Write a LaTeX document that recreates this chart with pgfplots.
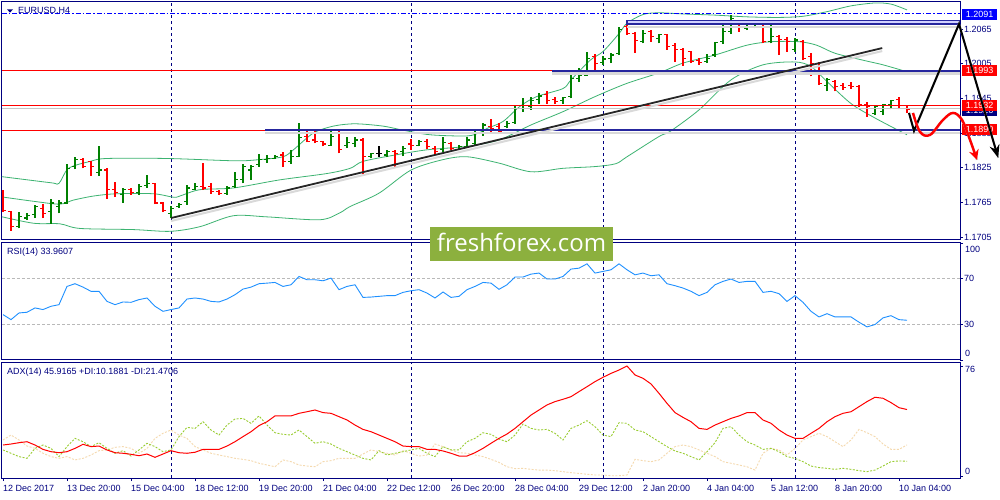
\documentclass[border=0pt]{standalone}
\usepackage{fontspec}
\setmainfont{Liberation Sans}
\newfontfamily\wmfont{Open Sans}
\usepackage{pgfplots}
\pgfplotsset{compat=1.18}
\usepackage{pgfplotstable}
\usetikzlibrary{arrows.meta}
\definecolor{navy}{HTML}{000080}
\definecolor{barg}{HTML}{008000}
\definecolor{bbg}{HTML}{3CB371}
\definecolor{rsib}{HTML}{1E90FF}
\definecolor{pdic}{HTML}{9ACD32}
\definecolor{mdic}{HTML}{F5D9AE}
\definecolor{wmg}{HTML}{8CB03E}
\definecolor{chan}{HTML}{26269E}
\definecolor{lblue}{HTML}{0000FF}

\pgfplotstableread{
i o h l c d rsi adx pdi mdi
0 1.1784 1.1786 1.1749 1.1751 0 38.8 21.4 18.0 24.9
1 1.1749 1.1751 1.1716 1.1723 0 34.5 22.1 15.7 28.3
2 1.1723 1.1749 1.1720 1.1741 1 40.2 23.0 13.4 24.9
3 1.1738 1.1746 1.1735 1.1742 1 40.8 23.7 12.2 20.7
4 1.1744 1.1761 1.1738 1.1758 1 44.5 21.4 19.1 19.1
5 1.1755 1.1762 1.1738 1.1746 0 43.1 18.4 21.4 15.7
6 1.1749 1.1771 1.1728 1.1764 1 45.9 16.8 19.1 13.4
7 1.1758 1.1769 1.1746 1.1764 1 47.3 16.1 13.4 12.2
8 1.1764 1.1832 1.1762 1.1824 1 62.9 16.8 20.3 13.4
9 1.1827 1.1843 1.1822 1.1840 1 65.2 19.1 26.0 11.1
10 1.1839 1.1841 1.1824 1.1827 0 62.3 21.9 23.7 12.2
11 1.1836 1.1837 1.1811 1.1827 0 58.7 20.3 20.3 14.5
12 1.1817 1.1863 1.1811 1.1821 1 58.7 20.7 23.0 17.5
13 1.1821 1.1824 1.1771 1.1787 0 50.1 18.0 19.1 18.0
14 1.1787 1.1801 1.1774 1.1782 0 47.3 16.1 15.7 19.8
15 1.1778 1.1790 1.1764 1.1787 1 49.6 15.7 17.5 20.3
16 1.1787 1.1790 1.1778 1.1782 0 49.3 15.0 13.8 19.1
17 1.1782 1.1797 1.1778 1.1792 1 51.6 14.0 18.0 15.7
18 1.1795 1.1813 1.1790 1.1798 1 53.0 15.2 22.6 19.1
19 1.1798 1.1799 1.1762 1.1764 0 45.9 12.9 20.3 26.0
20 1.1764 1.1766 1.1748 1.1751 0 41.6 15.2 16.8 29.5
21 1.1746 1.1758 1.1738 1.1755 1 43.1 17.5 18.0 31.8
22 1.1758 1.1764 1.1755 1.1761 1 44.5 16.1 27.2 28.3
23 1.1767 1.1795 1.1761 1.1790 1 52.1 15.7 33.6 26.0
24 1.1787 1.1798 1.1786 1.1792 1 53.0 16.4 32.9 20.3
25 1.1792 1.1833 1.1787 1.1790 0 52.1 18.4 37.5 18.0
26 1.1792 1.1798 1.1780 1.1784 0 50.1 18.4 31.8 15.7
27 1.1784 1.1786 1.1778 1.1781 0 49.6 18.4 28.3 14.5
28 1.1781 1.1794 1.1778 1.1790 1 52.1 20.7 35.2 13.4
29 1.1792 1.1818 1.1790 1.1804 1 55.8 23.7 39.4 12.2
30 1.1804 1.1832 1.1798 1.1827 1 60.6 27.2 39.8 11.5
31 1.1821 1.1830 1.1804 1.1827 1 62.3 30.6 36.4 10.6
32 1.1830 1.1849 1.1827 1.1839 1 65.2 34.8 41.5 8.8
33 1.1839 1.1847 1.1834 1.1841 1 65.7 37.5 35.2 7.6
34 1.1841 1.1847 1.1840 1.1845 1 66.3 41.5 29.9 6.4
35 1.1847 1.1853 1.1827 1.1836 0 62.9 41.5 28.8 11.1
36 1.1836 1.1856 1.1832 1.1844 1 64.3 41.5 28.3 9.9
37 1.1844 1.1902 1.1843 1.1878 1 71.4 43.3 31.8 7.6
38 1.1879 1.1888 1.1869 1.1870 0 68.6 44.4 27.2 6.9
39 1.1873 1.1888 1.1867 1.1870 0 68.6 45.6 22.6 6.4
40 1.1870 1.1872 1.1862 1.1866 0 67.7 43.8 23.7 9.9
41 1.1864 1.1888 1.1863 1.1879 1 70.0 43.3 22.1 10.6
42 1.1885 1.1889 1.1850 1.1857 0 60.1 41.0 19.1 12.2
43 1.1864 1.1879 1.1859 1.1869 1 62.9 38.7 16.8 12.2
44 1.1867 1.1879 1.1860 1.1873 1 64.3 35.2 14.5 12.2
45 1.1873 1.1876 1.1815 1.1844 0 53.5 32.2 12.2 15.2
46 1.1844 1.1851 1.1841 1.1849 1 53.8 30.6 11.1 18.0
47 1.1850 1.1862 1.1843 1.1850 2 54.4 28.3 17.5 16.8
48 1.1847 1.1856 1.1843 1.1853 1 55.0 26.0 14.5 15.7
49 1.1853 1.1856 1.1827 1.1850 0 55.0 23.7 15.7 14.5
50 1.1853 1.1862 1.1845 1.1859 1 57.8 20.7 16.8 17.5
51 1.1866 1.1874 1.1856 1.1863 0 59.2 20.3 18.0 15.7
52 1.1864 1.1873 1.1862 1.1870 1 60.1 20.3 19.1 13.8
53 1.1870 1.1874 1.1857 1.1862 0 57.2 18.4 15.7 14.5
54 1.1859 1.1862 1.1847 1.1853 0 53.0 18.4 13.4 22.1
55 1.1856 1.1879 1.1853 1.1869 1 58.1 17.3 20.3 20.3
56 1.1867 1.1870 1.1856 1.1859 0 53.5 15.7 18.0 18.0
57 1.1857 1.1864 1.1855 1.1862 1 54.4 13.8 18.0 16.1
58 1.1862 1.1879 1.1859 1.1873 1 60.1 13.8 23.7 15.7
59 1.1867 1.1888 1.1863 1.1885 1 62.9 16.1 26.0 14.5
60 1.1886 1.1903 1.1880 1.1899 1 66.3 19.1 29.9 13.4
61 1.1897 1.1909 1.1886 1.1893 0 65.7 22.6 28.8 11.5
62 1.1896 1.1902 1.1883 1.1888 0 60.4 26.0 25.5 9.4
63 1.1896 1.1905 1.1893 1.1902 1 64.3 29.0 23.7 6.4
64 1.1903 1.1931 1.1901 1.1928 1 70.9 32.9 28.3 5.1
65 1.1928 1.1945 1.1922 1.1932 1 70.9 37.5 35.9 5.3
66 1.1931 1.1947 1.1925 1.1942 1 73.4 42.1 32.9 4.6
67 1.1943 1.1954 1.1936 1.1949 1 74.3 45.6 31.8 4.1
68 1.1951 1.1958 1.1936 1.1942 0 69.2 49.1 32.2 4.1
69 1.1943 1.1947 1.1935 1.1939 0 69.2 51.4 29.5 3.7
70 1.1941 1.1948 1.1936 1.1947 1 71.4 53.0 24.9 3.0
71 1.1948 1.1985 1.1945 1.1980 1 77.7 54.8 32.9 2.3
72 1.1980 1.1997 1.1974 1.1985 1 78.5 58.3 35.2 1.8
73 1.1985 1.2026 1.1984 1.2014 1 82.2 61.7 38.2 1.2
74 1.2017 1.2022 1.1993 1.2006 0 74.3 65.2 34.1 0.7
75 1.2007 1.2018 1.2003 1.2013 1 75.7 68.2 28.3 0.7
76 1.2014 1.2024 1.2006 1.2020 1 77.1 70.9 27.2 0.2
77 1.2023 1.2068 1.2020 1.2064 1 82.2 73.2 36.8 0.2
78 1.2069 1.2076 1.2055 1.2057 0 77.1 76.0 36.4 0.7
79 1.2057 1.2060 1.2024 1.2045 0 72.8 69.8 31.8 11.5
80 1.2043 1.2063 1.2040 1.2057 1 74.3 67.5 30.6 10.6
81 1.2060 1.2064 1.2043 1.2052 0 72.0 63.6 27.2 9.9
82 1.2049 1.2057 1.2040 1.2056 1 72.8 57.1 23.7 11.1
83 1.2055 1.2057 1.2029 1.2034 0 65.2 50.2 20.3 15.7
84 1.2037 1.2040 1.2008 1.2029 0 63.5 43.8 17.3 20.3
85 1.2029 1.2032 1.2001 1.2014 0 61.5 40.5 15.7 21.4
86 1.2026 1.2027 1.2006 1.2008 0 58.7 37.5 13.4 20.3
87 1.2011 1.2014 1.2003 1.2007 0 55.0 32.9 11.1 18.0
88 1.2008 1.2022 1.2006 1.2014 1 57.8 32.2 16.8 15.7
89 1.2020 1.2043 1.2017 1.2041 1 64.3 35.2 23.0 13.4
90 1.2043 1.2074 1.2039 1.2060 1 67.2 37.5 32.9 9.9
91 1.2060 1.2089 1.2057 1.2083 1 69.2 39.8 34.1 8.8
92 1.2076 1.2078 1.2060 1.2069 0 66.3 41.5 28.3 7.6
93 1.2066 1.2075 1.2063 1.2070 1 67.2 43.8 23.7 6.4
94 1.2068 1.2072 1.2066 1.2070 1 67.2 43.8 21.4 4.1
95 1.2072 1.2074 1.2040 1.2043 0 57.8 38.7 18.4 15.7
96 1.2043 1.2080 1.2040 1.2052 1 58.7 36.4 19.1 19.1
97 1.2052 1.2055 1.2020 1.2047 0 56.7 31.8 16.8 18.0
98 1.2047 1.2051 1.2026 1.2043 0 50.1 28.3 13.4 14.5
99 1.2029 1.2049 1.2026 1.2046 1 55.0 26.0 12.2 19.1
100 1.2043 1.2046 1.2011 1.2014 0 49.3 26.0 9.9 24.9
101 1.2017 1.2023 1.1983 1.2006 0 41.6 29.5 6.9 27.2
102 1.2006 1.2008 1.1968 1.1971 0 36.8 32.9 5.8 29.5
103 1.1968 1.1980 1.1957 1.1977 1 39.6 37.5 5.3 27.2
104 1.1974 1.1977 1.1957 1.1965 0 36.8 41.0 4.6 23.7
105 1.1968 1.1972 1.1960 1.1964 0 36.8 43.3 5.3 20.3
106 1.1968 1.1974 1.1962 1.1965 0 36.8 44.4 4.6 24.9
107 1.1965 1.1968 1.1930 1.1934 0 32.3 47.9 3.7 32.2
108 1.1934 1.1938 1.1913 1.1931 0 28.3 51.4 3.0 29.9
109 1.1919 1.1934 1.1916 1.1931 1 30.3 54.4 4.1 27.2
110 1.1922 1.1936 1.1916 1.1934 1 36.0 53.7 6.9 22.1
111 1.1934 1.1943 1.1926 1.1942 1 37.9 50.7 9.9 18.4
112 1.1943 1.1947 1.1926 1.1928 0 34.5 47.2 10.4 18.4
113 1.1928 1.1931 1.1920 1.1926 0 33.96 45.92 10.19 21.47
}\bars

\pgfplotstableread{
i p
-0.4 1.1810
6 1.1799
7 1.1798
8.2 1.1824
10.9 1.1836
13 1.1841
20.5 1.1841
29 1.1837
32 1.1839
35 1.1844
36.3 1.1856
38.8 1.1885
41.3 1.1897
44 1.1901
47.5 1.1897
50 1.1890
53.4 1.1882
58 1.1880
59.6 1.1886
60.5 1.1893
62.5 1.1905
64.6 1.1931
66.7 1.1948
70 1.1962
71 1.1977
73.4 1.2011
75 1.2026
77 1.2057
78 1.2075
80 1.2090
82 1.2093
85 1.2091
89 1.2089
93 1.2086
97 1.2085
100 1.2087
103 1.2095
106 1.2105
109 1.2110
111 1.2108
113 1.2098
}\bbup

\pgfplotstableread{
i p
-0.4 1.1775
3.8 1.1767
7.1 1.1762
8.8 1.1769
11.3 1.1776
14.2 1.1780
18.8 1.1780
21.3 1.1774
22.1 1.1776
24.6 1.1787
28.8 1.1790
34.6 1.1804
40.5 1.1815
43.4 1.1824
45 1.1836
49 1.1847
53 1.1856
58 1.1862
62 1.1873
66 1.1899
70 1.1922
74 1.1948
78 1.1971
82 1.1989
85 1.2006
89 1.2020
93 1.2037
96 1.2043
99.5 1.2043
101.7 1.2037
104 1.2023
107.5 1.2011
110 1.2003
113 1.1991
}\bbmid

\pgfplotstableread{
i p
-0.4 1.1741
3.8 1.1729
7.1 1.1728
9.6 1.1720
16.3 1.1718
20.9 1.1715
24.6 1.1723
28.8 1.1742
33 1.1740
39.6 1.1735
42.1 1.1747
43.4 1.1758
47 1.1781
51 1.1821
55 1.1839
58 1.1844
62 1.1833
66 1.1818
70 1.1824
74 1.1827
76.6 1.1832
78 1.1844
82 1.1879
83.4 1.1888
87 1.1925
91 1.1977
95 1.2003
99 1.2008
101 1.2000
103 1.1974
106 1.1936
109 1.1911
113 1.1882
}\bblo

\newcommand\ohlc[2]{%
 \addplot[#2, line width=1.1pt, quiver={u=0,v=\thisrow{h}-\thisrow{l}}, restrict expr to domain={\thisrow{d}}{#1:#1}] table[x=i,y=l]{\bars};
 \addplot[#2, line width=1.1pt, quiver={u=-0.375,v=0}, restrict expr to domain={\thisrow{d}}{#1:#1}] table[x=i,y=o]{\bars};
 \addplot[#2, line width=1.1pt, quiver={u=0.375,v=0}, restrict expr to domain={\thisrow{d}}{#1:#1}] table[x=i,y=c]{\bars};
}

\begin{document}
\begin{tikzpicture}[font=\fontsize{9}{11}\selectfont]
\useasboundingbox (0pt,0pt) rectangle (1000pt,500pt);
\fill[white] (0pt,0pt) rectangle (1000pt,500pt);
\pgfplotsset{mt/.style={
  scale only axis, width=958pt, xmin=-0.125, xmax=119.625, anchor=south west,
  axis line style={navy, line width=1pt},
  xtick=\empty, extra x ticks={21,51,75,99}, extra x tick labels={},
  extra x tick style={grid=major, major tick length=0pt},
  major grid style={navy, dash pattern=on 3pt off 3pt, line width=1pt},
  ytick pos=right, yticklabel pos=right, tick align=outside,
  major tick length=3pt, tick style={navy, line width=0.8pt},
  tick label style={font=\fontsize{9}{10}\selectfont, text=navy},
  yticklabel style={anchor=west, inner sep=0pt, xshift=1pt},
  scaled y ticks=false,
}}
% ---------- main price panel
\begin{axis}[mt, at={(2pt,260pt)}, height=238pt, ymin=1.1700, ymax=1.21117,
  ytick={1.1705,1.1765,1.1825,1.1885,1.1945,1.2005,1.2065},
  yticklabels={1.1705,1.1765,1.1825,1.1885,1.1945,1.2005,1.2065}]
\addplot[bbg, line width=0.8pt, smooth, tension=0.5] table[x=i,y=p]{\bbup};
\addplot[bbg, line width=0.8pt, smooth, tension=0.5] table[x=i,y=p]{\bbmid};
\addplot[bbg, line width=0.8pt, smooth, tension=0.5] table[x=i,y=p]{\bblo};
\ohlc{1}{barg}
\ohlc{0}{red}
\ohlc{2}{black}
% horizontal levels
\draw[red, line width=1pt] (axis cs:-0.125,1.1993) -- (axis cs:119.625,1.1993);
\draw[red, line width=1pt] (axis cs:-0.125,1.1932) -- (axis cs:119.625,1.1932);
\draw[gray!45, line width=1pt] (axis cs:-0.125,1.19268) -- (axis cs:119.625,1.19268);
\draw[red, line width=1pt] (axis cs:-0.125,1.1890) -- (axis cs:119.625,1.1890);
\draw[lblue, line width=1pt, dash pattern=on 5pt off 2pt on 1.5pt off 2pt] (axis cs:-0.125,1.2091) -- (axis cs:119.625,1.2091);
% channel lines with shadows
\draw[gray!30, line width=2.5pt, yshift=-3pt] (axis cs:78,1.20736) -- (axis cs:119.6,1.20736);
\draw[gray!30, line width=2.5pt, yshift=-3pt] (axis cs:68.6,1.1993) -- (axis cs:119.6,1.1993);
\draw[gray!30, line width=2.5pt, yshift=-3pt] (axis cs:32.75,1.1890) -- (axis cs:119.6,1.1890);
\draw[chan, line width=1.1pt, fill=blue!18] (axis cs:78,1.20736) rectangle (axis cs:119.6,1.20793);
\draw[chan, line width=2pt] (axis cs:68.6,1.1993) -- (axis cs:119.6,1.1993);
\draw[chan, line width=2pt] (axis cs:32.75,1.1890) -- (axis cs:119.6,1.1890);
% trend line
\draw[gray!30, line width=2pt, yshift=-3pt] (axis cs:21,1.1738) -- (axis cs:109.9,1.2032);
\draw[black!85, line width=1.8pt] (axis cs:21,1.1738) -- (axis cs:109.9,1.2032);
% anchor points for the forecast arrows
\coordinate (k1) at (axis cs:113.25,1.19198);
\coordinate (k2) at (axis cs:113.875,1.18887);
\coordinate (k3) at (axis cs:119.5,1.20736);
\coordinate (k4) at (axis cs:124.4,1.18420);
\coordinate (r1) at (axis cs:113.75,1.19198);
\coordinate (r2) at (axis cs:114.625,1.18870);
\coordinate (r3) at (axis cs:115.875,1.18818);
\coordinate (r4) at (axis cs:117.5,1.19077);
\coordinate (r5) at (axis cs:118.75,1.19198);
\coordinate (r6) at (axis cs:119.875,1.19077);
\coordinate (r7) at (axis cs:120.875,1.18732);
\coordinate (r8) at (axis cs:121.75,1.18386);
\end{axis}
% ---------- RSI panel
\begin{axis}[mt, at={(2pt,140pt)}, height=117pt, ymin=0, ymax=100,
  ytick={0,30,70,100}, yticklabels={{},30,70,{}}]
\draw[gray!55, line width=0.8pt, dash pattern=on 3pt off 2pt] (axis cs:-0.125,30) -- (axis cs:119.625,30);
\draw[gray!55, line width=0.8pt, dash pattern=on 3pt off 2pt] (axis cs:-0.125,70) -- (axis cs:119.625,70);
\addplot[rsib, line width=0.9pt] table[x=i,y=rsi]{\bars};
\end{axis}
% ---------- ADX panel
\begin{axis}[mt, at={(2pt,22pt)}, height=116pt, ymin=-1.38, ymax=78.76,
  ytick={0,76}, yticklabels={{},{}},
  xtick={0,8,...,112}, xtick pos=bottom,
  xticklabels={12 Dec 2017,13 Dec 20:00,15 Dec 04:00,18 Dec 12:00,19 Dec 20:00,21 Dec 04:00,22 Dec 12:00,26 Dec 20:00,28 Dec 04:00,29 Dec 12:00,2 Jan 20:00,4 Jan 04:00,5 Jan 12:00,8 Jan 20:00,10 Jan 04:00},
  xticklabel style={anchor=north west, inner sep=0pt, xshift=0pt, yshift=-4pt}]
\addplot[mdic, line width=0.9pt, dash pattern=on 2pt off 1.5pt] table[x=i,y=mdi]{\bars};
\addplot[pdic, line width=0.9pt, dash pattern=on 2pt off 1.5pt] table[x=i,y=pdi]{\bars};
\addplot[red, line width=1pt] table[x=i,y=adx]{\bars};
\end{axis}
% ---------- panel captions and scale labels
\begin{scope}[x=1pt,y=1pt]
\fill[navy] (7,490.7) -- (13,490.7) -- (10,487.3) -- cycle;
\node[anchor=base west, inner sep=0pt, text=navy] at (18,486) {EURUSD,H4};
\node[anchor=base west, inner sep=0pt, text=navy] at (7,245) {RSI(14) 33.9607};
\node[anchor=base west, inner sep=0pt, text=navy] at (7,125) {ADX(14) 45.9165 +DI:10.1881 -DI:21.4706};
\node[anchor=base west, inner sep=0pt, text=navy] at (965,247.3) {100};
\node[anchor=base west, inner sep=0pt, text=navy] at (965,143.3) {0};
\node[anchor=base west, inner sep=0pt, text=navy] at (965,127.3) {76};
\node[anchor=base west, inner sep=0pt, text=navy] at (965,25) {0};
% ---------- price boxes
\node[fill=lblue, text=white, inner sep=0pt, minimum width=35pt, minimum height=11pt, anchor=west] at (962,485.7) {1.2091};
\node[fill=red, text=white, inner sep=0pt, minimum width=35pt, minimum height=11pt, anchor=west] at (962,429.2) {1.1993};
\node[fill=navy, text=white, inner sep=0pt, minimum width=35pt, minimum height=11pt, anchor=west] at (962,389.4) {1.1926};
\node[fill=red, text=white, inner sep=0pt, minimum width=35pt, minimum height=11pt, anchor=west] at (962,394.2) {1.1932};
\node[fill=red, text=white, inner sep=0pt, minimum width=35pt, minimum height=11pt, anchor=west] at (962,370.5) {1.1890};
% ---------- forecast arrows
\draw[gray!35, line width=2pt, shift={(1.5pt,-2.5pt)}] (k1) -- (k2) -- (k3) -- (k4);
\draw[black, line width=2pt, line join=miter, -{Stealth[length=13pt,width=10pt]}] (k1) -- (k2) -- (k3) -- (k4);
\draw[gray!35, line width=2.4pt, shift={(1.5pt,-2.5pt)}] plot[smooth, tension=0.6] coordinates {(r1) (r2) (r3) (r4) (r5) (r6) (r7) (r8)};
\draw[red, line width=2.4pt, -{Stealth[length=10pt,width=10pt]}] plot[smooth, tension=0.6] coordinates {(r1) (r2) (r3) (r4) (r5) (r6) (r7) (r8)};
% ---------- watermark
\fill[wmg] (430,239) rectangle (613,273);
\node[anchor=base, inner sep=0pt, text=white, font=\wmfont\fontsize{24}{26}\selectfont] at (521.5,248.5) {freshforex.com};
\end{scope}
\end{tikzpicture}
\end{document}
